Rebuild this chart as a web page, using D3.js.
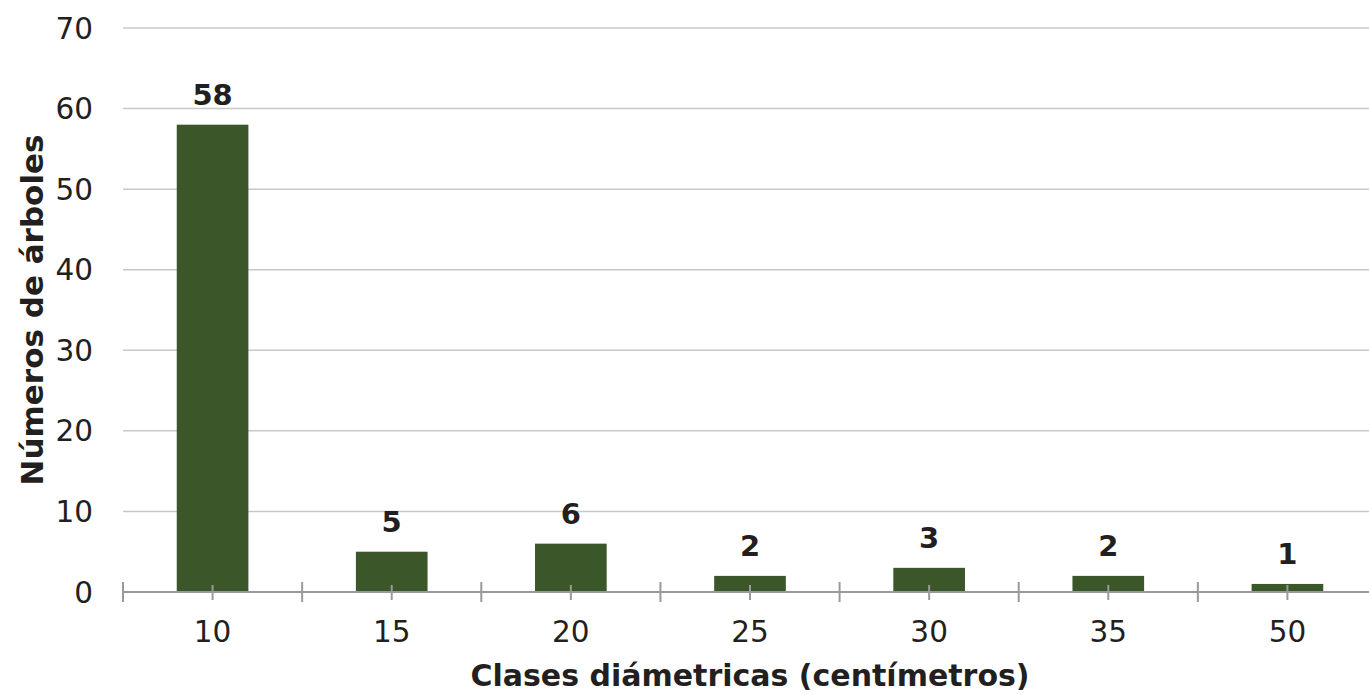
<!DOCTYPE html>
<html>
<head>
<meta charset="utf-8">
<script src="https://cdn.jsdelivr.net/npm/d3@7"></script>
<style>
  html, body { margin: 0; padding: 0; background: #fff; overflow: hidden; }
  svg { display: block; font-family: "DejaVu Sans", Verdana, sans-serif; }
</style>
</head>
<body>
<svg id="chart" width="1369" height="695"></svg>
<script>
// Diameter classes (cm) and tree counts per class
const categories = ["10", "15", "20", "25", "30", "35", "50"];
const counts = [58, 5, 6, 2, 3, 2, 1];
const yTicks = [0, 10, 20, 30, 40, 50, 60, 70];
const xTitle = "Clases diámetricas (centímetros)";
const yTitle = "Números de árboles";

const svg = d3.select("#chart");
const plotLeft = 123, plotRight = 1377, plotTop = 28, plotBottom = 592;

const x = d3.scaleBand()
  .domain(categories)
  .range([plotLeft, plotRight])
  .paddingInner(0.6)
  .paddingOuter(0.3);
const step = x.step();

const y = d3.scaleLinear().domain([0, 70]).range([plotBottom, plotTop]);

const textColor = "#231f20";

// horizontal gridlines
svg.append("g")
  .selectAll("line")
  .data(yTicks.filter(d => d > 0))
  .join("line")
  .attr("x1", plotLeft).attr("x2", 1369)
  .attr("y1", d => y(d)).attr("y2", d => y(d))
  .attr("stroke", "#c8c8c8").attr("stroke-width", 1.5);

// y tick labels
svg.append("g")
  .selectAll("text")
  .data(yTicks)
  .join("text")
  .attr("x", 93)
  .attr("y", d => y(d))
  .attr("dy", "0.36em")
  .attr("text-anchor", "end")
  .attr("font-size", 29.5)
  .attr("fill", textColor)
  .text(d => d);

// bars
svg.append("g")
  .selectAll("rect")
  .data(counts)
  .join("rect")
  .attr("x", (d, i) => x(categories[i]))
  .attr("width", x.bandwidth())
  .attr("y", d => y(d))
  .attr("height", d => y(0) - y(d))
  .attr("fill", "#3b5628");

// value labels
svg.append("g")
  .selectAll("text")
  .data(counts)
  .join("text")
  .attr("x", (d, i) => x(categories[i]) + x.bandwidth() / 2)
  .attr("y", d => y(d) - 20)
  .attr("text-anchor", "middle")
  .attr("font-size", 29)
  .attr("font-weight", "bold")
  .attr("fill", textColor)
  .text(d => d);

// x axis line and ticks
const axis = svg.append("g").attr("stroke", "#9a9a9a").attr("stroke-width", 2);
axis.append("line")
  .attr("x1", plotLeft).attr("x2", 1369)
  .attr("y1", plotBottom).attr("y2", plotBottom);
axis.selectAll("line.bound")
  .data(d3.range(categories.length + 1))
  .join("line")
  .attr("class", "bound")
  .attr("x1", i => plotLeft + i * step).attr("x2", i => plotLeft + i * step)
  .attr("y1", plotBottom - 10).attr("y2", plotBottom + 10);
axis.selectAll("line.mid")
  .data(categories)
  .join("line")
  .attr("class", "mid")
  .attr("x1", d => x(d) + x.bandwidth() / 2).attr("x2", d => x(d) + x.bandwidth() / 2)
  .attr("y1", plotBottom - 7).attr("y2", plotBottom + 8);

// category labels
svg.append("g")
  .selectAll("text")
  .data(categories)
  .join("text")
  .attr("x", d => x(d) + x.bandwidth() / 2)
  .attr("y", 642)
  .attr("text-anchor", "middle")
  .attr("font-size", 29.5)
  .attr("fill", textColor)
  .text(d => d);

// axis titles
svg.append("text")
  .attr("x", (plotLeft + plotRight) / 2)
  .attr("y", 686)
  .attr("text-anchor", "middle")
  .attr("font-size", 30)
  .attr("font-weight", "bold")
  .attr("fill", textColor)
  .text(xTitle);

svg.append("text")
  .attr("transform", `translate(43, ${(plotTop + plotBottom) / 2}) rotate(-90)`)
  .attr("text-anchor", "middle")
  .attr("font-size", 31)
  .attr("font-weight", "bold")
  .attr("fill", textColor)
  .text(yTitle);
</script>
</body>
</html>
